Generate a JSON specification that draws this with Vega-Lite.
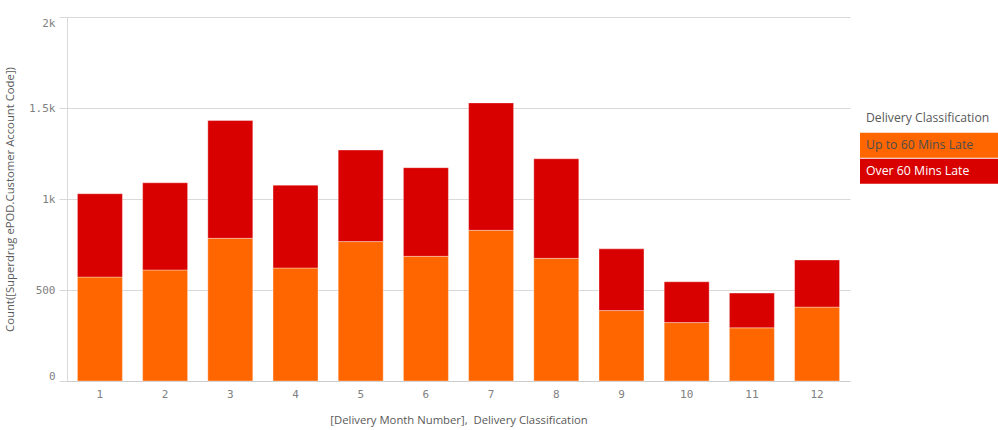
{
  "$schema": "https://vega.github.io/schema/vega-lite/v6.json",
  "autosize": "none",
  "width": 783,
  "height": 364,
  "padding": {"left": 67, "top": 17, "right": 148, "bottom": 49},
  "background": "white",
  "data": {
    "values": [
      {"Month": 1, "Class": "Up to 60 Mins Late", "Count": 571},
      {"Month": 1, "Class": "Over 60 Mins Late", "Count": 458},
      {"Month": 2, "Class": "Up to 60 Mins Late", "Count": 610},
      {"Month": 2, "Class": "Over 60 Mins Late", "Count": 479},
      {"Month": 3, "Class": "Up to 60 Mins Late", "Count": 784},
      {"Month": 3, "Class": "Over 60 Mins Late", "Count": 647},
      {"Month": 4, "Class": "Up to 60 Mins Late", "Count": 621},
      {"Month": 4, "Class": "Over 60 Mins Late", "Count": 455},
      {"Month": 5, "Class": "Up to 60 Mins Late", "Count": 766},
      {"Month": 5, "Class": "Over 60 Mins Late", "Count": 503},
      {"Month": 6, "Class": "Up to 60 Mins Late", "Count": 685},
      {"Month": 6, "Class": "Over 60 Mins Late", "Count": 487},
      {"Month": 7, "Class": "Up to 60 Mins Late", "Count": 828},
      {"Month": 7, "Class": "Over 60 Mins Late", "Count": 700},
      {"Month": 8, "Class": "Up to 60 Mins Late", "Count": 674},
      {"Month": 8, "Class": "Over 60 Mins Late", "Count": 547},
      {"Month": 9, "Class": "Up to 60 Mins Late", "Count": 387},
      {"Month": 9, "Class": "Over 60 Mins Late", "Count": 339},
      {"Month": 10, "Class": "Up to 60 Mins Late", "Count": 321},
      {"Month": 10, "Class": "Over 60 Mins Late", "Count": 224},
      {"Month": 11, "Class": "Up to 60 Mins Late", "Count": 292},
      {"Month": 11, "Class": "Over 60 Mins Late", "Count": 191},
      {"Month": 12, "Class": "Up to 60 Mins Late", "Count": 406},
      {"Month": 12, "Class": "Over 60 Mins Late", "Count": 259}
    ]
  },
  "config": {
    "view": {"stroke": null},
    "font": "Open Sans"
  },
  "mark": {"type": "bar", "stroke": "white", "strokeWidth": 1, "strokeOpacity": 0.35},
  "encoding": {
    "x": {
      "field": "Month",
      "type": "ordinal",
      "scale": {"paddingInner": 0.31, "paddingOuter": 0.16},
      "axis": {
        "title": "[Delivery Month Number],\u00a0\u00a0Delivery Classification",
        "labelAngle": 0,
        "labelFont": "DejaVu Sans Mono",
        "labelFontSize": 11,
        "labelColor": "#808080",
        "labelPadding": 7,
        "ticks": false,
        "domainColor": "#cccccc",
        "titleFont": "Open Sans",
        "titleFontSize": 11.3,
        "titleFontWeight": "normal",
        "titleColor": "#595959",
        "titlePadding": 15
      }
    },
    "y": {
      "field": "Count",
      "type": "quantitative",
      "aggregate": "sum",
      "stack": "zero",
      "scale": {"domain": [0, 2000], "nice": false},
      "axis": {
        "title": "Count([Superdrug ePOD.Customer Account Code])",
        "values": [0, 500, 1000, 1500, 2000],
        "labelExpr": "datum.value >= 1000 ? (datum.value / 1000) + 'k' : datum.value",
        "labelFlush": true,
        "labelFont": "DejaVu Sans Mono",
        "labelFontSize": 11,
        "labelColor": "#808080",
        "labelPadding": 4,
        "tickSize": 8,
        "tickColor": "#d9d9d9",
        "gridColor": "#d9d9d9",
        "domainColor": "#d9d9d9",
        "titleFont": "Open Sans",
        "titleFontSize": 11.3,
        "titleFontWeight": "normal",
        "titleColor": "#595959",
        "titlePadding": 13
      }
    },
    "color": {
      "field": "Class",
      "type": "nominal",
      "scale": {
        "domain": ["Up to 60 Mins Late", "Over 60 Mins Late"],
        "range": ["#ff6600", "#d90000"]
      },
      "legend": {
        "title": "Delivery Classification",
        "orient": "none",
        "legendX": 799,
        "legendY": 95,
        "padding": 0,
        "symbolType": "M-1.6,-1.25H12.2V1.25H-1.6Z",
        "symbolSize": 400,
        "symbolStrokeWidth": 0,
        "symbolOpacity": 1,
        "rowPadding": 0,
        "labelOffset": -20,
        "labelFont": "Open Sans",
        "labelFontSize": 12.3,
        "labelColor": {"expr": "datum.label === 'Over 60 Mins Late' ? '#ffffff' : '#4d4d4d'"},
        "titleFont": "Open Sans",
        "titleFontSize": 12.2,
        "titleFontWeight": "normal",
        "titleColor": "#595959",
        "titlePadding": 11
      }
    },
    "order": {"field": "Class", "sort": "descending"}
  }
}
